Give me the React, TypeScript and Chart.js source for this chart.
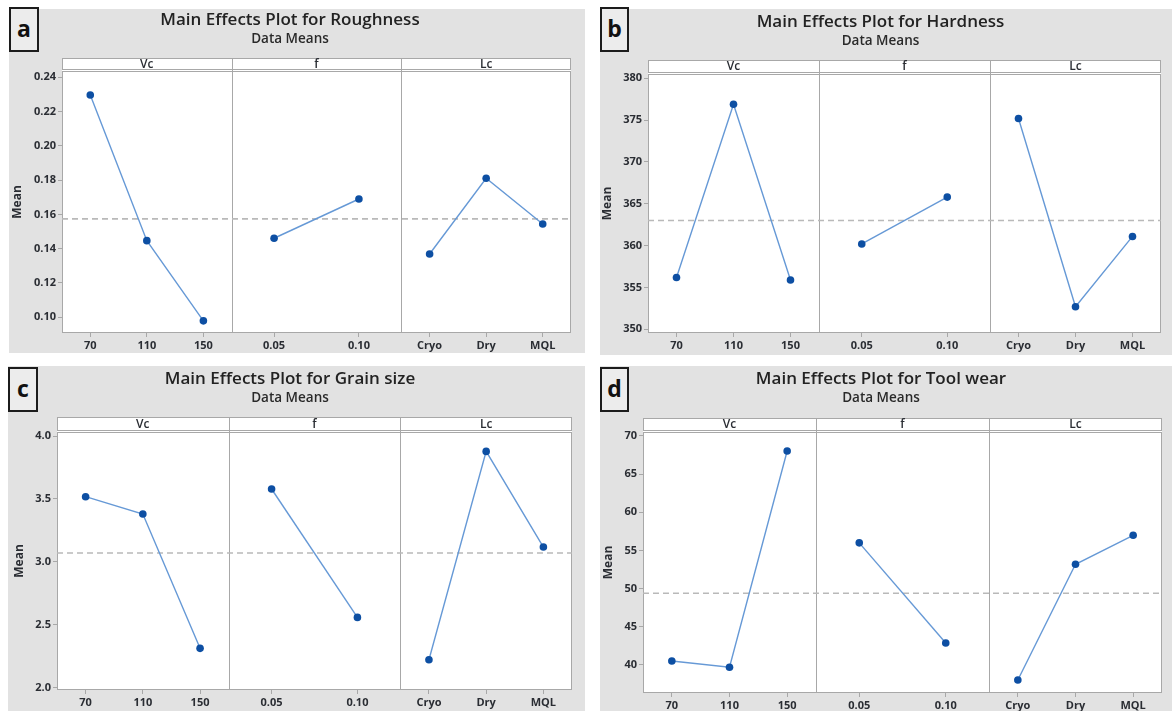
import React, { useEffect, useRef } from "react";
import { Chart, registerables } from "chart.js";

Chart.register(...registerables);

// ---------- data ----------
const factorNames = ["Vc", "f", "Lc"];
const vcLevels = ["70", "110", "150"];
const fLevels = ["0.05", "0.10"];
const lcLevels = ["Cryo", "Dry", "MQL"];

const roughnessVc = [0.2297, 0.1447, 0.0979];
const roughnessF = [0.1461, 0.169];
const roughnessLc = [0.1369, 0.1811, 0.1544];
const roughnessMean = 0.1574;
const roughnessTicks = [0.1, 0.12, 0.14, 0.16, 0.18, 0.2, 0.22, 0.24];

const hardnessVc = [356.2, 376.9, 355.9];
const hardnessF = [360.2, 365.8];
const hardnessLc = [375.2, 352.7, 361.1];
const hardnessMean = 363.0;
const hardnessTicks = [350, 355, 360, 365, 370, 375, 380];

const grainVc = [3.518, 3.38, 2.313];
const grainF = [3.579, 2.559];
const grainLc = [2.222, 3.878, 3.118];
const grainMean = 3.07;
const grainTicks = [2.0, 2.5, 3.0, 3.5, 4.0];

const wearVc = [40.52, 39.7, 68.03];
const wearF = [56.0, 42.88];
const wearLc = [38.03, 53.19, 56.99];
const wearMean = 49.4;
const wearTicks = [40, 45, 50, 55, 60, 65, 70];

// ---------- styles / layout ----------
const FONT = "'Open Sans', 'Noto Sans', sans-serif";
const PANEL_BG = "#e2e2e2";
const FRAME = "#a8a8a8";
const LINE = "#6699d6";
const POINT = "#0d4fa3";
const MEANLINE = "#b9b9b9";
const TEXT = "#2a2d33";

const panels = [
  {
    letter: "a", title: "Main Effects Plot for Roughness",
    series: [roughnessVc, roughnessF, roughnessLc], mean: roughnessMean, ticks: roughnessTicks,
    decimals: 2, yMin: 0.0908, yMax: 0.2437,
    box: { x: 9, y: 9, w: 576, h: 344 },
    plot: { l: 62, r: 571, stripTop: 58, top: 71, bottom: 333 },
    titleY: 20, subY: 39, meanX: 18,
    letterBox: { x: 9, y: 7, w: 30, h: 45 },
  },
  {
    letter: "b", title: "Main Effects Plot for Hardness",
    series: [hardnessVc, hardnessF, hardnessLc], mean: hardnessMean, ticks: hardnessTicks,
    decimals: 0, yMin: 349.56, yMax: 380.51,
    box: { x: 600, y: 9, w: 572, h: 346 },
    plot: { l: 648, r: 1161, stripTop: 60, top: 74, bottom: 333 },
    titleY: 22, subY: 41, meanX: 607,
    letterBox: { x: 600, y: 7, w: 29, h: 45 },
  },
  {
    letter: "c", title: "Main Effects Plot for Grain size",
    series: [grainVc, grainF, grainLc], mean: grainMean, ticks: grainTicks,
    decimals: 1, yMin: 1.982, yMax: 4.032,
    box: { x: 8, y: 366, w: 577, h: 345 },
    plot: { l: 57, r: 572, stripTop: 417, top: 432, bottom: 690 },
    titleY: 379, subY: 398, meanX: 20,
    letterBox: { x: 8, y: 367, w: 30, h: 45 },
  },
  {
    letter: "d", title: "Main Effects Plot for Tool wear",
    series: [wearVc, wearF, wearLc], mean: wearMean, ticks: wearTicks,
    decimals: 0, yMin: 36.33, yMax: 70.52,
    box: { x: 600, y: 366, w: 572, h: 345 },
    plot: { l: 643, r: 1162, stripTop: 418, top: 432, bottom: 693 },
    titleY: 379, subY: 398, meanX: 609,
    letterBox: { x: 600, y: 367, w: 29, h: 45 },
  },
];

const levelSets = [vcLevels, fLevels, lcLevels];

function Panel({ p }: { p: any }) {
  const ref = useRef<HTMLCanvasElement | null>(null);

  useEffect(() => {
    if (!ref.current) return;
    const cx = p.box.x;
    const cy = p.box.y;
    const left = p.plot.l - cx;
    const right = p.plot.r - cx;
    const top = p.plot.top - cy;
    const bottom = p.plot.bottom - cy;
    const stripTop = p.plot.stripTop - cy;
    const T = 17;
    const S = 13.5;
    const tc = p.titleY - cy;
    const sc = p.subY - cy;
    const tp = tc - 0.6 * T;
    const sp = sc - tc - 0.6 * T - 0.6 * S;
    const sb = top - sc - 0.6 * S;
    const meanPad = Math.max(0, p.meanX - cx - 7.2);

    const tickPos: number[] = [];
    const tickLabels: string[] = [];
    levelSets.forEach((lv, i) =>
      lv.forEach((l, j) => {
        tickPos.push(i + (j + 0.5) / lv.length);
        tickLabels.push(l);
      })
    );

    const datasets: any[] = p.series.map((vals: number[], i: number) => ({
      label: factorNames[i],
      data: vals.map((v, j) => ({ x: i + (j + 0.5) / vals.length, y: v })),
      borderColor: LINE,
      backgroundColor: POINT,
      pointBackgroundColor: POINT,
      pointBorderColor: POINT,
      pointRadius: 3.8,
      pointBorderWidth: 0,
      borderWidth: 1.4,
      tension: 0,
    }));
    datasets.push({
      label: "mean",
      data: [
        { x: 0, y: p.mean },
        { x: 3, y: p.mean },
      ],
      borderColor: MEANLINE,
      borderDash: [6, 4],
      borderWidth: 1.6,
      pointRadius: 0,
    });

    const framePlugin = {
      id: "frame",
      beforeDraw(chart: any) {
        const { ctx, chartArea: a } = chart;
        ctx.save();
        ctx.fillStyle = "#ffffff";
        ctx.fillRect(a.left, stripTop, a.right - a.left, a.bottom - stripTop);
        ctx.restore();
      },
      beforeDatasetsDraw(chart: any) {
        const { ctx, chartArea: a, scales } = chart;
        const xs = scales.x;
        ctx.save();
        ctx.strokeStyle = FRAME;
        ctx.lineWidth = 1;
        const L = Math.round(a.left) + 0.5;
        const R = Math.round(a.right) - 0.5;
        const Tp = Math.round(a.top) + 0.5;
        const B = Math.round(a.bottom) - 0.5;
        const ST = Math.round(stripTop) + 0.5;
        const SB = Math.round(a.top) - 1.5;
        ctx.strokeRect(L, ST, R - L, SB - ST);
        ctx.strokeRect(L, Tp, R - L, B - Tp);
        for (let k = 1; k < factorNames.length; k++) {
          const x = Math.round(xs.getPixelForValue(k)) + 0.5;
          ctx.beginPath();
          ctx.moveTo(x, ST);
          ctx.lineTo(x, B);
          ctx.stroke();
        }
        ctx.fillStyle = TEXT;
        ctx.font = `600 12px ${FONT}`;
        ctx.textAlign = "center";
        ctx.textBaseline = "middle";
        factorNames.forEach((n, k) => {
          ctx.fillText(n, xs.getPixelForValue(k + 0.5), (ST + SB) / 2 + 0.5);
        });
        ctx.restore();
      },
    };

    const chart = new Chart(ref.current, {
      type: "line",
      data: { datasets },
      plugins: [framePlugin],
      options: {
        animation: false,
        responsive: false,
        devicePixelRatio: 1,
        layout: { padding: { top: 0, left: 0, right: p.box.w - right, bottom: 0 } },
        plugins: {
          legend: { display: false },
          tooltip: { enabled: false },
          title: {
            display: true,
            text: p.title,
            color: "#222222",
            font: { family: FONT, size: T, weight: "600" },
            padding: { top: tp, bottom: 0 },
          },
          subtitle: {
            display: true,
            text: "Data Means",
            color: "#2a2a2a",
            font: { family: FONT, size: S, weight: "600" },
            padding: { top: sp, bottom: sb },
          },
        },
        scales: {
          x: {
            type: "linear",
            min: 0,
            max: 3,
            afterBuildTicks: (scale: any) => {
              scale.ticks = tickPos.map((v) => ({ value: v }));
            },
            afterFit: (scale: any) => {
              scale.height = p.box.h - bottom;
            },
            ticks: {
              autoSkip: false,
              maxRotation: 0,
              padding: 2,
              color: TEXT,
              font: { family: FONT, size: 11, weight: "bold" },
              callback: (_v: any, i: number) => tickLabels[i],
            },
            grid: {
              drawOnChartArea: false,
              drawTicks: true,
              tickLength: 4,
              color: FRAME,
            },
            border: { display: false },
          },
          y: {
            type: "linear",
            min: p.yMin,
            max: p.yMax,
            afterBuildTicks: (scale: any) => {
              scale.ticks = p.ticks.map((v: number) => ({ value: v }));
            },
            afterFit: (scale: any) => {
              scale.width = left;
            },
            ticks: {
              padding: 2,
              color: TEXT,
              font: { family: FONT, size: 11, weight: "bold" },
              callback: (v: any) => Number(v).toFixed(p.decimals),
            },
            grid: {
              drawOnChartArea: false,
              drawTicks: true,
              tickLength: 4,
              color: FRAME,
            },
            border: { display: false },
            title: {
              display: true,
              text: "Mean",
              color: TEXT,
              font: { family: FONT, size: 12, weight: "bold" },
              padding: { top: meanPad, bottom: 0 },
            },
          },
        },
      } as any,
    });
    return () => chart.destroy();
  }, [p]);

  return (
    <div
      style={{
        position: "absolute",
        left: p.box.x,
        top: p.box.y,
        width: p.box.w,
        height: p.box.h,
        background: PANEL_BG,
      }}
    >
      <canvas ref={ref} width={p.box.w} height={p.box.h} style={{ display: "block" }} />
    </div>
  );
}

function LetterBox({ p }: { p: any }) {
  const b = p.letterBox;
  return (
    <div
      style={{
        position: "absolute",
        left: b.x,
        top: b.y,
        width: b.w,
        height: b.h,
        boxSizing: "border-box",
        border: "2px solid #1c1c1c",
        background: "#ececec",
        display: "flex",
        alignItems: "center",
        justifyContent: "center",
        fontFamily: FONT,
        fontWeight: 700,
        fontSize: 23,
        color: "#111",
        lineHeight: 1,
        paddingBottom: 2,
      }}
    >
      {p.letter}
    </div>
  );
}

export default function App() {
  return (
    <div
      style={{
        position: "absolute",
        left: 0,
        top: 0,
        width: 1172,
        height: 711,
        background: "#ffffff",
        overflow: "hidden",
      }}
    >
      {panels.map((p) => (
        <Panel key={p.letter} p={p} />
      ))}
      {panels.map((p) => (
        <LetterBox key={"l" + p.letter} p={p} />
      ))}
    </div>
  );
}
